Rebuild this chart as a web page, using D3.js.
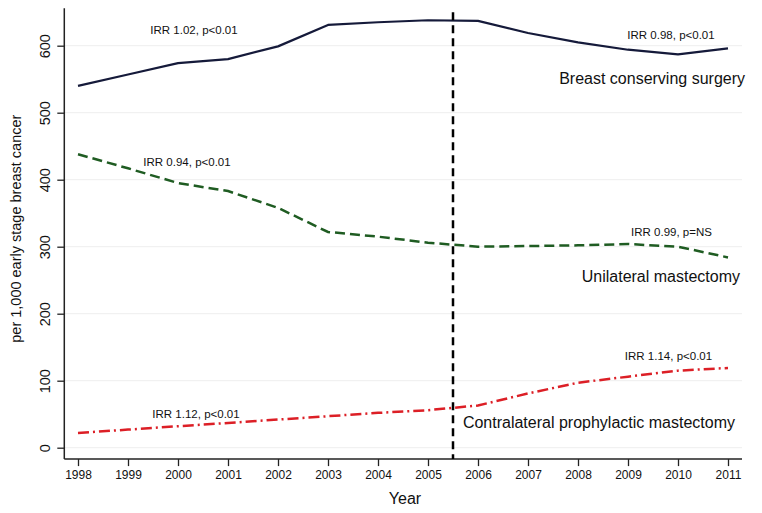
<!DOCTYPE html>
<html>
<head>
<meta charset="utf-8">
<script src="https://cdn.jsdelivr.net/npm/d3@7/dist/d3.min.js"></script>
<style>
  html, body { margin: 0; padding: 0; background: #fff; }
  svg { display: block; font-family: "Liberation Sans", Arial, sans-serif; }
</style>
</head>
<body>
<svg id="chart" width="762" height="513"></svg>
<script>
const years = [1998, 1999, 2000, 2001, 2002, 2003, 2004, 2005, 2006, 2007, 2008, 2009, 2010, 2011];
const bcs = [540, 557, 574, 580, 599, 631, 635, 638, 637, 619, 605, 594, 587, 596];
const unilateral = [438, 417, 395, 383, 358, 322, 315, 306, 300, 301, 302, 304, 300, 284];
const cpm = [22, 27, 32, 37, 42, 47, 52, 56, 63, 81, 97, 106, 115, 119];
const yTicks = [0, 100, 200, 300, 400, 500, 600];
const cutYear = 2005.5;
const irrLabels = [
  { text: "IRR 1.02, p<0.01", x: 2000.32, y: 617 },
  { text: "IRR 0.94, p<0.01", x: 2000.18, y: 420 },
  { text: "IRR 1.12, p<0.01", x: 2000.36, y: 44 },
  { text: "IRR 0.98, p<0.01", x: 2009.86, y: 610 },
  { text: "IRR 0.99, p=NS", x: 2009.87, y: 316 },
  { text: "IRR 1.14, p<0.01", x: 2009.81, y: 131 }
];
const seriesLabels = [
  { text: "Breast conserving surgery", x: 2011.34, y: 543 },
  { text: "Unilateral mastectomy", x: 2011.24, y: 247 },
  { text: "Contralateral prophylactic mastectomy", x: 2011.14, y: 29 }
];

const svg = d3.select("#chart");
const x = d3.scaleLinear().domain([1998, 2011]).range([78, 728]);
const y = d3.scaleLinear().domain([0, 600]).range([447.7, 45.7]);
const xMax = 2011.28;
const yMin = -17, yMax = 656;
const xLeft = 64.3;

// gridlines
svg.append("g").selectAll("line").data(yTicks).join("line")
  .attr("x1", xLeft).attr("x2", x(xMax))
  .attr("y1", d => y(d)).attr("y2", d => y(d))
  .attr("stroke", "#eeeeee").attr("stroke-width", 1);

// axes
const xAxis = d3.axisBottom(x).tickValues(years).tickFormat(d3.format("d")).tickSize(7).tickPadding(4);
const gx = svg.append("g").attr("transform", `translate(0,${y(yMin)})`).call(xAxis);
gx.select(".domain").attr("d", `M${xLeft},0H${x(xMax)}`).attr("stroke", "#222").attr("stroke-width", 1.5);
gx.selectAll(".tick line").attr("stroke", "#222").attr("stroke-width", 1.3);
gx.selectAll(".tick text").attr("font-size", 12).attr("fill", "#111")
  .attr("font-family", "Liberation Sans, Arial, sans-serif");

const yAxis = d3.axisLeft(y).tickValues(yTicks).tickSize(7).tickPadding(0).tickFormat(d3.format("d"));
const gy = svg.append("g").attr("transform", `translate(${xLeft},0)`).call(yAxis);
gy.select(".domain").attr("d", `M0,${y(yMax)}V${y(yMin)}`).attr("stroke", "#222").attr("stroke-width", 1.5);
gy.selectAll(".tick line").attr("stroke", "#222").attr("stroke-width", 1.3);
gy.selectAll(".tick text")
  .attr("font-size", 14.5).attr("fill", "#111")
  .attr("font-family", "Liberation Sans, Arial, sans-serif")
  .attr("text-anchor", "middle")
  .attr("x", null)
  .attr("transform", "translate(-19,0) rotate(-90)")
  .attr("dy", "0.35em");

// axis titles
svg.append("text").attr("x", (x(1998) + x(2011)) / 2 + 2).attr("y", 504)
  .attr("text-anchor", "middle").attr("font-size", 16).attr("fill", "#111").text("Year");
svg.append("text").attr("transform", `translate(21,${(y(0) + y(600)) / 2 - 18}) rotate(-90)`)
  .attr("text-anchor", "middle").attr("font-size", 14.5).attr("fill", "#111")
  .text("per 1,000 early stage breast cancer");

// series lines
const line = d3.line().x((d, i) => x(years[i])).y(d => y(d));
svg.append("path").datum(bcs).attr("d", line)
  .attr("fill", "none").attr("stroke", "#151a3a").attr("stroke-width", 2.2).attr("stroke-linejoin", "round");
svg.append("path").datum(unilateral).attr("d", line)
  .attr("fill", "none").attr("stroke", "#1f5c22").attr("stroke-width", 2.5)
  .attr("stroke-dasharray", "10,5");
svg.append("path").datum(cpm).attr("d", line)
  .attr("fill", "none").attr("stroke", "#dc1f26").attr("stroke-width", 2.5)
  .attr("stroke-dasharray", "11,4,2,4");

// cut line
svg.append("line").attr("x1", x(cutYear)).attr("x2", x(cutYear))
  .attr("y1", y(yMax) + 4).attr("y2", y(yMin))
  .attr("stroke", "#000").attr("stroke-width", 2.5).attr("stroke-dasharray", "8,5");

// labels
svg.append("g").selectAll("text").data(irrLabels).join("text")
  .attr("x", d => x(d.x)).attr("y", d => y(d.y))
  .attr("text-anchor", "middle").attr("font-size", 11.5).attr("fill", "#111")
  .text(d => d.text);
svg.append("g").selectAll("text").data(seriesLabels).join("text")
  .attr("x", d => x(d.x)).attr("y", d => y(d.y))
  .attr("text-anchor", "end").attr("font-size", 16).attr("fill", "#111")
  .text(d => d.text);
</script>
</body>
</html>
